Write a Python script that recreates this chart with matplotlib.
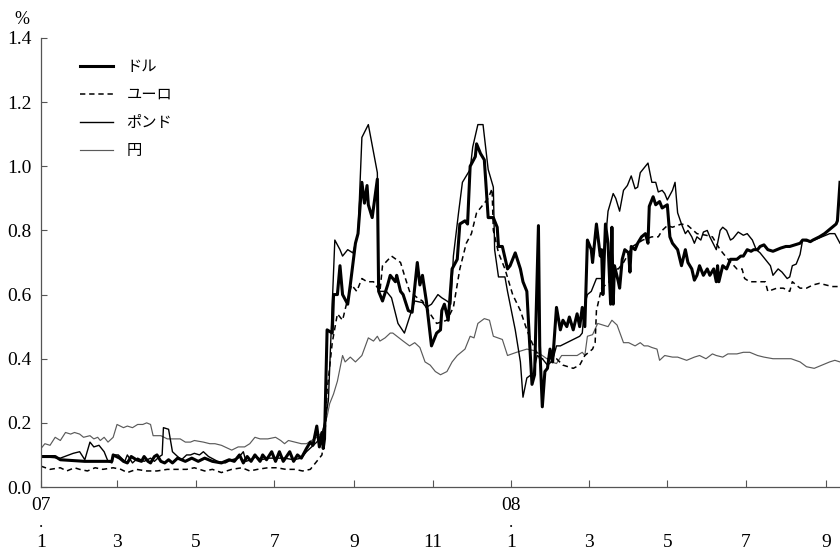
import matplotlib
matplotlib.use("Agg")
import matplotlib.pyplot as plt
import pandas as pd
import numpy as np

plt.rcParams['font.family'] = ['Liberation Serif', 'Noto Sans CJK JP', 'DejaVu Sans']

# days since 2007-01-01, values in %
usd_days = [0,11,15,34,55,56,61,64,67,70,74,78,80,83,85,88,90,93,96,99,102,106,109,112,117,122,127,133,140,146,150,154,157,160,163,166,170,172,175,179,182,185,188,193,196,199,202,206,209,211,214,216,218,219,220,
            222,226,227,230,232,234,238,240,244,246,249,251,253,254,257,261,262,265,269,271,275,276,279,281,285,288,292,294,296,299,303,307,310,311,313,316,319,323,325,329,331,333,337,338,341,344,347,351,354,355,358,362,364,368,372,374,377,379,381,383,386,387,389,391,393,395,397,400,403,405,408,410,413,416,418,420,422,424,427,428,431,434,435,436,438,440,442,443,444,445,448,449,451,453,456,457,458,461,463,466,469,471,472,475,477,480,482,486,488,490,494,497,500,502,505,507,509,511,514,517,519,522,524,525,526,529,532,535,540,543,545,548,551,553,556,558,561,564,568,571,574,578,581,585,589,591,594,597,599,604,608,611,614,617,618,620]
usd_vals = [0.095,0.095,0.085,0.08,0.08,0.10,0.09,0.08,0.075,0.095,0.085,0.08,0.095,0.08,0.075,0.095,0.10,0.08,0.075,0.085,0.075,0.09,0.085,0.08,0.09,0.08,0.09,0.08,0.075,0.085,0.08,0.10,0.075,0.095,0.08,0.10,0.08,0.10,0.085,0.11,0.08,0.11,0.08,0.11,0.08,0.10,0.09,0.12,0.14,0.13,0.19,0.125,0.17,0.12,0.15,
            0.49,0.48,0.60,0.60,0.69,0.60,0.57,0.63,0.76,0.79,0.95,0.885,0.94,0.88,0.84,0.96,0.61,0.58,0.63,0.66,0.64,0.66,0.61,0.60,0.55,0.545,0.70,0.63,0.66,0.58,0.44,0.48,0.49,0.55,0.57,0.52,0.68,0.71,0.82,0.83,0.82,1.0,1.03,1.07,1.04,1.02,0.84,0.84,0.81,0.75,0.75,0.68,0.69,0.73,0.68,0.64,0.61,0.46,0.32,0.35,0.815,0.44,0.25,0.36,0.37,0.43,0.39,0.56,0.49,0.52,0.50,0.53,0.49,0.54,0.50,0.56,0.50,0.77,0.74,0.70,0.82,0.72,0.74,0.60,0.82,0.76,0.57,0.81,0.57,0.69,0.64,0.62,0.71,0.74,0.73,0.67,0.75,0.74,0.76,0.78,0.79,0.76,0.875,0.905,0.88,0.89,0.87,0.88,0.78,0.76,0.74,0.69,0.74,0.70,0.68,0.645,0.66,0.69,0.66,0.68,0.66,0.68,0.64,0.69,0.64,0.69,0.68,0.71,0.71,0.72,0.72,0.74,0.735,0.74,0.74,0.75,0.755,0.74,0.735,0.74,0.745,0.75,0.75,0.755,0.76,0.77,0.77,0.765,0.77,0.78,0.79,0.80,0.81,0.82,0.83,0.95]

eur_days = [0,7,15,20,26,30,36,42,48,56,62,67,74,82,90,98,106,113,119,127,133,140,148,156,162,168,176,183,190,197,203,209,215,218,221,222,226,230,234,237,241,245,249,253,258,263,265,272,279,282,286,292,296,302,307,315,320,325,330,334,338,343,347,350,351,355,360,366,372,377,381,387,393,400,405,413,418,422,428,430,431,435,438,441,444,448,452,459,467,474,479,482,486,490,497,502,509,516,521,527,532,540,544,546,550,556,562,564,571,576,581,583,589,594,599,604,609,614,620]
eur_vals = [0.065,0.055,0.06,0.05,0.06,0.055,0.05,0.06,0.055,0.06,0.055,0.045,0.055,0.05,0.05,0.055,0.055,0.055,0.06,0.05,0.055,0.045,0.055,0.06,0.05,0.055,0.06,0.06,0.055,0.055,0.05,0.055,0.085,0.10,0.20,0.30,0.45,0.54,0.52,0.57,0.63,0.61,0.65,0.64,0.64,0.61,0.69,0.72,0.70,0.66,0.61,0.59,0.58,0.54,0.51,0.52,0.56,0.68,0.76,0.79,0.855,0.88,0.90,0.93,0.80,0.73,0.68,0.60,0.55,0.49,0.45,0.40,0.40,0.40,0.38,0.37,0.38,0.41,0.43,0.45,0.55,0.62,0.63,0.64,0.68,0.68,0.70,0.75,0.77,0.78,0.78,0.80,0.815,0.81,0.82,0.815,0.79,0.785,0.78,0.74,0.715,0.68,0.68,0.65,0.64,0.64,0.64,0.61,0.62,0.62,0.61,0.64,0.62,0.62,0.63,0.635,0.63,0.625,0.625]

gbp_days = [0,15,25,30,34,38,41,45,49,52,55,56,60,65,67,71,75,80,85,88,92,94,95,99,102,106,109,113,116,119,123,126,130,137,143,148,153,157,159,163,167,171,176,182,189,196,202,206,210,214,218,221,223,
            228,232,234,238,242,246,249,254,261,262,268,272,277,282,286,290,296,299,303,308,311,315,318,320,324,327,333,335,339,343,347,351,352,355,360,362,368,372,374,377,382,385,389,393,396,398,400,403,408,413,418,420,422,424,427,431,435,436,438,440,444,446,449,452,455,458,461,463,465,469,471,474,477,479,482,484,486,490,492,494,497,500,502,505,507,509,512,514,517,519,524,527,529,532,535,537,541,545,548,552,555,558,562,566,568,572,575,579,581,583,586,589,591,596,600,606,612,616,620]
gbp_vals = [0.095,0.09,0.105,0.11,0.085,0.14,0.125,0.13,0.11,0.08,0.075,0.10,0.10,0.08,0.10,0.075,0.09,0.08,0.09,0.08,0.095,0.10,0.185,0.18,0.11,0.095,0.085,0.10,0.10,0.105,0.10,0.11,0.095,0.08,0.075,0.085,0.09,0.11,0.08,0.085,0.095,0.085,0.09,0.09,0.09,0.085,0.09,0.11,0.125,0.14,0.16,0.22,0.27,
            0.77,0.74,0.72,0.74,0.73,0.79,1.09,1.13,0.98,0.61,0.61,0.59,0.51,0.48,0.53,0.58,0.575,0.56,0.57,0.60,0.59,0.58,0.57,0.72,0.855,0.95,0.99,1.06,1.13,1.13,0.99,0.935,0.74,0.655,0.655,0.61,0.49,0.39,0.28,0.34,0.355,0.41,0.40,0.38,0.39,0.41,0.44,0.44,0.45,0.46,0.47,0.48,0.57,0.60,0.61,0.65,0.65,0.66,0.77,0.86,0.915,0.90,0.86,0.925,0.94,0.97,0.93,0.935,0.98,1.0,1.01,0.95,0.95,0.92,0.925,0.915,0.895,0.925,0.95,0.855,0.82,0.79,0.80,0.78,0.76,0.78,0.77,0.795,0.80,0.78,0.74,0.80,0.81,0.80,0.77,0.775,0.795,0.785,0.79,0.77,0.74,0.73,0.71,0.69,0.66,0.68,0.67,0.65,0.655,0.69,0.695,0.725,0.77,0.765,0.77,0.78,0.79,0.79,0.76]

jpy_days = [0,3,7,11,15,19,23,26,30,33,38,41,44,46,49,52,56,59,64,67,71,75,79,82,85,87,93,98,103,108,112,116,119,126,131,135,140,148,153,158,162,166,170,176,182,186,189,192,197,202,206,210,214,218,222,224,227,230,234,236,240,244,249,254,258,261,263,267,271,273,281,286,290,294,298,302,306,310,315,319,323,329,333,336,339,344,348,351,358,362,369,377,383,389,396,400,404,410,416,420,422,424,428,432,436,440,443,447,452,456,461,465,468,471,474,478,480,484,490,494,501,507,511,516,521,524,529,533,540,545,550,556,561,568,575,582,589,594,600,606,612,616,620]
jpy_vals = [0.12,0.135,0.13,0.155,0.145,0.17,0.165,0.17,0.165,0.155,0.16,0.15,0.155,0.145,0.155,0.14,0.155,0.195,0.185,0.19,0.185,0.195,0.195,0.20,0.195,0.16,0.16,0.15,0.15,0.15,0.14,0.14,0.145,0.14,0.135,0.135,0.13,0.115,0.125,0.125,0.135,0.155,0.15,0.15,0.155,0.145,0.135,0.145,0.14,0.135,0.135,0.145,0.155,0.17,0.22,0.26,0.29,0.33,0.41,0.39,0.405,0.39,0.41,0.465,0.455,0.47,0.455,0.465,0.48,0.48,0.455,0.44,0.45,0.435,0.39,0.38,0.36,0.35,0.36,0.39,0.41,0.43,0.47,0.465,0.51,0.525,0.52,0.47,0.46,0.41,0.42,0.43,0.425,0.41,0.39,0.385,0.41,0.41,0.41,0.42,0.41,0.47,0.475,0.51,0.505,0.50,0.52,0.505,0.45,0.45,0.44,0.45,0.44,0.44,0.435,0.43,0.395,0.41,0.405,0.405,0.395,0.405,0.41,0.40,0.415,0.41,0.405,0.415,0.415,0.42,0.42,0.41,0.405,0.40,0.40,0.40,0.39,0.375,0.37,0.38,0.39,0.395,0.39]

labels = ['ドル', 'ユーロ', 'ポンド', '円']
month_ticks = ['2007-01-01','2007-03-01','2007-05-01','2007-07-01','2007-09-01','2007-11-01',
               '2008-01-01','2008-03-01','2008-05-01','2008-07-01','2008-09-01']
month_labels = ['1','3','5','7','9','11','1','3','5','7','9']
year_ticks = ['2007-01-01','2008-01-01']
year_labels = ['07','08']
yticks = [0.0,0.2,0.4,0.6,0.8,1.0,1.2,1.4]

base = pd.Timestamp('2007-01-01')
def to_dates(d):
    return base + pd.to_timedelta(np.array(d), unit='D')

fig = plt.figure(figsize=(8.4, 5.5), dpi=100)
ax = fig.add_axes([41/840, 1-487/550, 799/840, 449/550])

l_jpy, = ax.plot(to_dates(jpy_days), jpy_vals, color='#5a5a5a', lw=0.85)
l_eur, = ax.plot(to_dates(eur_days), eur_vals, color='black', lw=1.1, dashes=(3.5, 2.5))
l_gbp, = ax.plot(to_dates(gbp_days), gbp_vals, color='black', lw=1.0)
l_usd, = ax.plot(to_dates(usd_days), usd_vals, color='black', lw=2.2)

ax.set_xlim(pd.Timestamp('2007-01-01'), pd.Timestamp('2008-09-12'))
ax.set_ylim(0, 1.4)
ax.set_yticks(yticks)
ax.set_yticklabels([f'{v:.1f}' for v in yticks])
ax.set_xticks(pd.to_datetime(month_ticks))
ax.set_xticklabels(month_labels)

for s in ['top', 'right']:
    ax.spines[s].set_visible(False)
for s in ['left', 'bottom']:
    ax.spines[s].set_color('#555555')
    ax.spines[s].set_linewidth(0.9)

ax.tick_params(axis='y', direction='in', length=4.5, width=0.8, color='#555555',
               labelsize=14, pad=7)
ax.tick_params(axis='x', direction='in', length=5, width=0.8, color='#555555',
               labelsize=14, pad=34)

for t, lab in zip(pd.to_datetime(year_ticks), year_labels):
    ax.annotate(lab, xy=(t, 0), xycoords=('data', 'axes fraction'),
                xytext=(0, -13), textcoords='offset points',
                ha='center', va='center', fontsize=14)
    ax.annotate('.', xy=(t, 0), xycoords=('data', 'axes fraction'),
                xytext=(0, -29), textcoords='offset points',
                ha='center', va='baseline', fontsize=12)

fig.text(22/840, 1-19/550, '%', ha='center', va='center', fontsize=13)

leg = ax.legend([l_usd, l_eur, l_gbp, l_jpy], labels, loc='upper left',
                bbox_to_anchor=((80-41)/799, (487-58)/449), frameon=False,
                borderaxespad=0, borderpad=0, handlelength=2.15,
                handletextpad=0.9, labelspacing=0.72,
                prop={'family': ['Noto Sans CJK JP', 'DejaVu Sans'], 'size': 11})

fig.savefig('out.png', dpi=100)
